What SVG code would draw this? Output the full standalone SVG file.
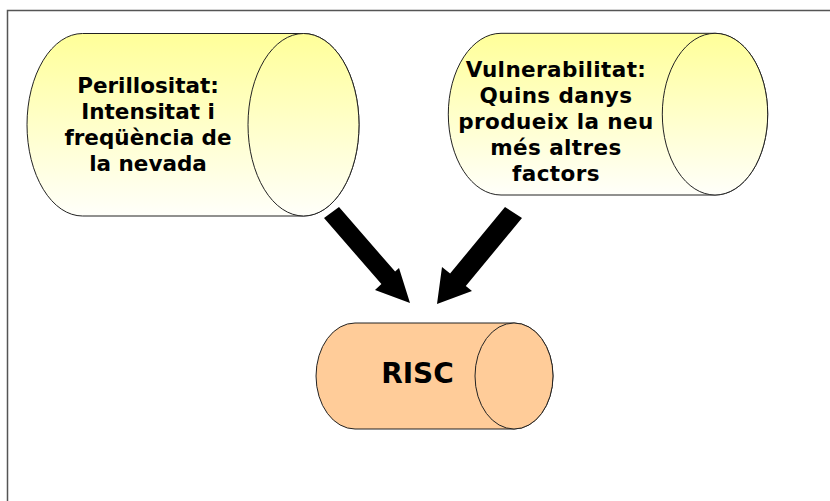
<svg xmlns="http://www.w3.org/2000/svg" width="830" height="501" viewBox="0 0 830 501">
<defs>
<linearGradient id="yel" x1="0" y1="0" x2="0" y2="1">
<stop offset="0" stop-color="#FFFF99"/>
<stop offset="1" stop-color="#FFFFFA"/>
</linearGradient>
<style>
.cyl{stroke:#222;stroke-width:1}
.y{fill:url(#yel)}
.o{fill:#FFCC99}
.t{font-family:"DejaVu Sans",Verdana,sans-serif;font-weight:bold;fill:#000;text-anchor:middle}
.arrow{fill:#000}
</style>
</defs>
<rect width="830" height="501" fill="#fff"/>
<path d="M7.5 501 V10.5 H830" fill="none" stroke="#555" stroke-width="1.5"/>
<g id="perillositat">
<path class="cyl y" d="M82.5 33.5 H303.5 A55.5 91.25 0 0 1 303.5 216 H82.5 A55.5 91.25 0 0 1 82.5 33.5 Z"/>
<ellipse class="cyl y" cx="303.5" cy="124.75" rx="55.5" ry="91.25"/>
<text class="t" font-size="21.5" x="148"><tspan x="148" y="93">Perillositat:</tspan><tspan x="148" y="119">Intensitat i</tspan><tspan x="148" y="145">freqüència de</tspan><tspan x="148" y="171">la nevada</tspan></text>
</g>
<g id="vulnerabilitat">
<path class="cyl y" d="M501 33.3 H715 A52.7 80.85 0 0 1 715 195 H501 A52.7 80.85 0 0 1 501 33.3 Z"/>
<ellipse class="cyl y" cx="715" cy="114.15" rx="52.7" ry="80.85"/>
<text class="t" font-size="21.5" x="556" letter-spacing="0.4"><tspan x="556" y="77">Vulnerabilitat:</tspan><tspan x="556" y="103">Quins danys</tspan><tspan x="556" y="129">produeix la neu</tspan><tspan x="556" y="155">més altres</tspan><tspan x="556" y="181">factors</tspan></text>
</g>
<g id="risc">
<path class="cyl o" d="M355 323 H514 A39 53 0 0 1 514 429 H355 A39 53 0 0 1 355 323 Z"/>
<ellipse class="cyl o" cx="514" cy="376" rx="39" ry="53"/>
<text class="t" font-size="28" x="417.5" y="383">RISC</text>
</g>
<g id="connectors">
<polygon class="arrow" points="339,207 395.1,271.6 399,268 410,303 375,290 381.4,284.1 324,218"/>
<polygon class="arrow" points="505,207 450.1,273.5 442,267 437,304 472,291 465.8,286 522,218"/>
</g>
</svg>
